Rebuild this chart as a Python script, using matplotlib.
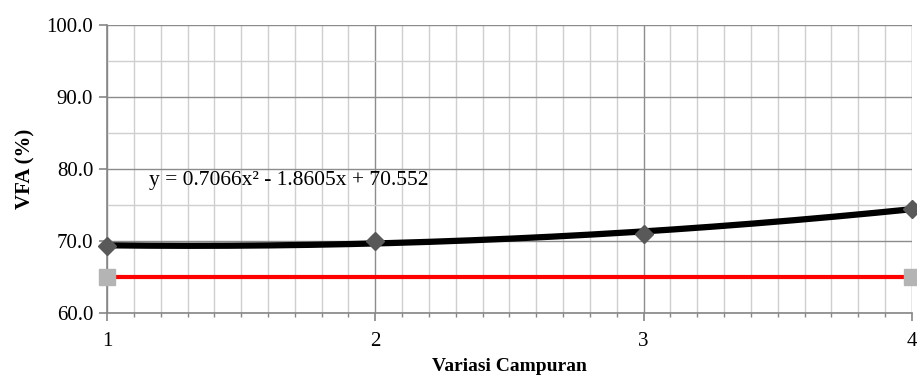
import numpy as np
import matplotlib.pyplot as plt
from matplotlib.ticker import MultipleLocator, FormatStrFormatter

plt.rcParams.update({
    "font.family": "serif",
    "font.serif": ["Liberation Serif", "DejaVu Serif"],
    "font.size": 15,
})

# data
variasi = [1, 2, 3, 4]
vfa = [69.3, 70.0, 70.9, 74.5]
batas_x = [1, 4]
batas_vfa = [65.0, 65.0]
# polynomial trendline coefficients (a x^2 + b x + c)
coef = [0.7066, -1.8605, 70.552]

fig = plt.figure(figsize=(9.17, 3.78), dpi=100)
ax = fig.add_axes([0.1167, 0.172, 0.8778, 0.762])

xs = np.linspace(1, 4, 200)
ax.plot(xs, np.polyval(coef, xs), color="black", lw=4.5, zorder=3,
        solid_capstyle="butt")
ax.plot(variasi, vfa, linestyle="none", marker="D", ms=9, color="#595959",
        zorder=4, clip_on=False)
ax.plot(batas_x, batas_vfa, color="#ff0000", lw=3, zorder=3)
ax.plot(batas_x, batas_vfa, linestyle="none", marker="s", ms=12,
        color="#b4b4b4", zorder=4, clip_on=False)

ax.text(1.155, 78.4, "y = 0.7066x² - 1.8605x + 70.552", fontsize=15.5,
        ha="left", va="center", zorder=5)

ax.set_xlim(1, 4)
ax.set_ylim(60, 100)
ax.xaxis.set_major_locator(MultipleLocator(1))
ax.xaxis.set_minor_locator(MultipleLocator(0.1))
ax.yaxis.set_major_locator(MultipleLocator(10))
ax.yaxis.set_minor_locator(MultipleLocator(5))
ax.yaxis.set_major_formatter(FormatStrFormatter("%.1f"))

ax.grid(which="major", color="#8c8c8c", lw=1.0, zorder=0)
ax.grid(which="minor", color="#cfcfcf", lw=1.0, zorder=0)
ax.set_axisbelow(True)

for side in ("top", "right"):
    ax.spines[side].set_visible(False)
for side in ("left", "bottom"):
    ax.spines[side].set_color("#868686")
    ax.spines[side].set_linewidth(1.2)

ax.tick_params(axis="both", which="major", direction="out", length=6,
               color="#868686", width=1.2, labelsize=15, pad=4)
ax.tick_params(axis="x", which="minor", direction="out", length=3,
               color="#868686", width=1.0)
ax.tick_params(axis="y", which="minor", length=0)
ax.tick_params(axis="x", which="major", pad=8)

ax.set_xlabel("Variasi Campuran", fontsize=14, fontweight="bold", labelpad=5)
ax.set_ylabel("VFA (%)", fontsize=15, fontweight="bold", labelpad=8)

fig.savefig("out.png", dpi=100)
